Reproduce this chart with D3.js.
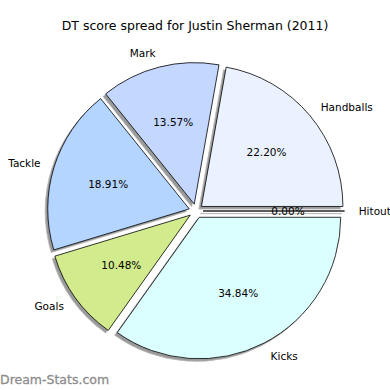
<!DOCTYPE html>
<html><head><meta charset="utf-8">
<script src="https://cdn.jsdelivr.net/npm/d3@7"></script>
<style>body{margin:0;background:#fff}svg{display:block}text{font-family:"DejaVu Sans",sans-serif}</style>
</head><body>
<script>
const categories = ["Hitout","Handballs","Mark","Tackle","Goals","Kicks"];
const values = [0.00, 22.20, 13.57, 18.91, 10.48, 34.84];
const colors = ["#ffffff","#ebf2ff","#c4d7ff","#b4d5ff","#d1eb8d","#dbffff"];
const title = "DT score spread for Justin Sherman (2011)";

const W = 390, H = 390, cx = 196, cy = 211, r = 141.5, explode = 0.05;
const svg = d3.select("body").append("svg").attr("width", W).attr("height", H);

svg.append("text").attr("x", 195).attr("y", 30).attr("text-anchor", "middle")
  .attr("font-size", 12.5).text(title);

const data = categories.map((c, i) => ({ name: c, value: values[i], color: colors[i] }));
const pie = d3.pie().value(d => d.value).sort(null)
  .startAngle(Math.PI / 2).endAngle(Math.PI / 2 - 2 * Math.PI);
const arcs = pie(data);
const arc = d3.arc().innerRadius(0).outerRadius(r);
const g = svg.append("g").attr("transform", `translate(${cx},${cy})`);

function off(d, k) {
  const a = (d.startAngle + d.endAngle) / 2;
  return [Math.sin(a) * k, -Math.cos(a) * k];
}

// shadows
g.selectAll("path.shadow").data(arcs).join("path").attr("class", "shadow")
  .attr("d", arc)
  .attr("transform", d => { const o = off(d, explode * r); return `translate(${o[0] - 2.6},${o[1] + 2.6})`; })
  .attr("fill", "#9a9a9a").attr("stroke", "#b8b8b8").attr("stroke-width", 0.8);

// wedges
g.selectAll("path.wedge").data(arcs).join("path").attr("class", "wedge")
  .attr("d", arc)
  .attr("transform", d => { const o = off(d, explode * r); return `translate(${o[0]},${o[1]})`; })
  .attr("fill", d => d.data.color).attr("stroke", "#000").attr("stroke-width", 0.8)
  .attr("stroke-linejoin", "round");

// labels
g.selectAll("text.lab").data(arcs).join("text").attr("class", "lab")
  .each(function (d) {
    const o = off(d, explode * r), p = off(d, 1.1 * r);
    d3.select(this).attr("x", o[0] + p[0]).attr("y", o[1] + p[1])
      .attr("text-anchor", p[0] >= -0.001 ? "start" : "end");
  })
  .attr("dominant-baseline", "central").attr("font-size", 10.5)
  .text(d => d.data.name);

g.selectAll("text.pct").data(arcs).join("text").attr("class", "pct")
  .each(function (d) {
    const o = off(d, explode * r), p = off(d, 0.6 * r);
    d3.select(this).attr("x", o[0] + p[0]).attr("y", o[1] + p[1]);
  })
  .attr("text-anchor", "middle").attr("dominant-baseline", "central").attr("font-size", 10.5)
  .text(d => d3.format(".2f")(d.data.value) + "%");

svg.append("text").attr("x", 0).attr("y", 384).attr("font-size", 12.5)
  .attr("fill", "#8c8c8c").attr("stroke", "#8c8c8c").attr("stroke-width", 0.3)
  .text("Dream-Stats.com");
</script>
</body></html>
